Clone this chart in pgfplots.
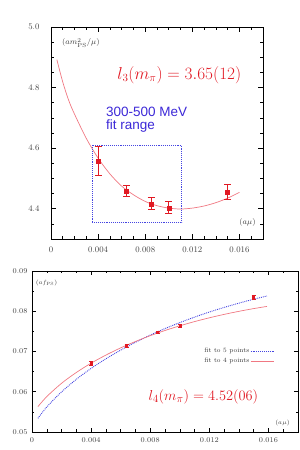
\documentclass[border=0pt]{standalone}
\usepackage{pgfplots}
\pgfplotsset{compat=1.18}
\usepackage{fontspec}
\newfontfamily\arialfont{Liberation Sans}
\definecolor{dred}{RGB}{225,25,35}
\definecolor{pred}{RGB}{240,120,130}
\definecolor{fblue}{RGB}{60,40,215}
\definecolor{cblue}{RGB}{70,70,225}
\begin{document}
\begin{tikzpicture}[x=1pt,y=1pt]
\useasboundingbox (0,0) rectangle (300,450);
% ---------------- top panel ----------------
\begin{axis}[
  at={(51pt,211pt)}, anchor=south west,
  scale only axis, width=212pt, height=212pt,
  xmin=0, xmax=0.018, ymin=4.3, ymax=5.0,
  xtick={0,0.004,0.008,0.012,0.016},
  xticklabels={0,0.004,0.008,0.012,0.016},
  minor xtick={0.001,0.002,0.003,0.005,0.006,0.007,0.009,0.010,0.011,0.013,0.014,0.015,0.017},
  ytick={4.4,4.6,4.8,5.0},
  yticklabels={4.4,4.6,4.8,5.0},
  minor ytick={4.35,4.45,4.5,4.55,4.65,4.7,4.75,4.85,4.9,4.95},
  scaled x ticks=false,
  tick align=inside,
  major tick length=5pt, minor tick length=3pt,
  axis line style={line width=0.8pt},
  tick style={line width=0.6pt, black},
  tick label style={font=\fontsize{8.5}{9}\selectfont, text=black!75},
  yticklabel style={xshift=-8pt},
  xticklabel style={yshift=-4pt},
  clip=false,
]
% fit curve
\addplot[pred, line width=0.7pt, smooth] coordinates {
(0.0005,4.892) (0.001,4.818) (0.0015,4.758) (0.002,4.712) (0.003,4.632)
(0.004,4.567) (0.005,4.515) (0.006,4.4745) (0.007,4.446) (0.008,4.424)
(0.009,4.410) (0.010,4.402) (0.011,4.399) (0.012,4.402) (0.013,4.409)
(0.014,4.420) (0.015,4.435) (0.016,4.454)};
% fit range box
\addplot[cblue, line width=0.9pt, densely dotted] coordinates {
(0.0035,4.355) (0.0111,4.355) (0.0111,4.61) (0.0035,4.61) (0.0035,4.355)};
% data
\addplot[dred, only marks, mark=square*, mark size=2pt,
  error bars/.cd, y dir=both, y explicit,
  error bar style={line width=0.9pt, dred},
  error mark options={rotate=90, mark size=3.5pt, line width=0.9pt, dred}]
coordinates {
(0.0040,4.558) +- (0,0.047)
(0.0064,4.459) +- (0,0.017)
(0.0085,4.416) +- (0,0.020)
(0.0100,4.403) +- (0,0.020)
(0.0150,4.455) +- (0,0.025)};
\node[text=dred, font=\fontsize{16}{18}\selectfont] at (axis cs:0.0109,4.8415) {$l_3(m_\pi) = 3.65(12)$};
\node[text=fblue, font=\arialfont\fontsize{13.5}{15}\selectfont, anchor=base west, inner sep=0pt] at (axis cs:0.00467,4.703) {300-500 MeV};
\node[text=fblue, font=\arialfont\fontsize{13.5}{15}\selectfont, anchor=base west, inner sep=0pt] at (axis cs:0.00467,4.660) {fit range};
\node[anchor=west, inner sep=0pt, text=black!75, font=\fontsize{8.5}{9}\selectfont] at (axis cs:0.00093,4.947) {$(am^{2}_{\mathrm{PS}}/\mu)$};
\node[fill=white, inner sep=1pt, text=black!75, font=\fontsize{8.5}{9}\selectfont] at (axis cs:0.01668,4.353) {$(a\mu)$};
\end{axis}
% ---------------- bottom panel ----------------
\begin{axis}[
  at={(32pt,18pt)}, anchor=south west,
  scale only axis, width=266pt, height=161pt,
  xmin=0, xmax=0.018, ymin=0.05, ymax=0.09,
  xtick={0,0.004,0.008,0.012,0.016},
  xticklabels={0,0.004,0.008,0.012,0.016},
  minor xtick={0.001,0.002,0.003,0.005,0.006,0.007,0.009,0.010,0.011,0.013,0.014,0.015,0.017},
  ytick={0.05,0.06,0.07,0.08,0.09},
  yticklabels={0.05,0.06,0.07,0.08,0.09},
  minor ytick={0.055,0.065,0.075,0.085},
  scaled x ticks=false, scaled y ticks=false,
  tick align=inside,
  major tick length=4pt, minor tick length=2.5pt,
  axis line style={line width=0.7pt},
  tick style={line width=0.5pt, black},
  tick label style={font=\fontsize{7.3}{8}\selectfont, text=black!75},
  yticklabel style={xshift=-1pt},
  xticklabel style={yshift=-2.5pt},
  legend style={draw=none, fill=none, at={(axis cs:0.0166,0.0688)}, anchor=east,
    font=\fontsize{6.5}{7}\selectfont, text=black!80, row sep=2pt,
    nodes={inner sep=1pt}},
  legend cell align=right,
  legend plot pos=right,
  legend image code/.code={\draw[#1] (0pt,0pt) -- (23pt,0pt);},
  clip=false,
]
\addplot[cblue, line width=0.9pt, densely dotted, smooth] coordinates {
(0.0004,0.05340) (0.001,0.05622) (0.002,0.05997) (0.003,0.06309) (0.004,0.06580)
(0.005,0.06819) (0.006,0.07034) (0.007,0.07229) (0.008,0.07407) (0.009,0.07570)
(0.010,0.07718) (0.011,0.07854) (0.012,0.07981) (0.013,0.08095) (0.014,0.08201)
(0.015,0.08299) (0.0159,0.08379)};
\addlegendentry{fit to 5 points}
\addplot[pred, line width=0.7pt, smooth] coordinates {
(0.0004,0.05630) (0.001,0.05880) (0.002,0.06210) (0.003,0.06479) (0.004,0.06710)
(0.005,0.06911) (0.006,0.07090) (0.007,0.07249) (0.008,0.07393) (0.009,0.07522)
(0.010,0.07638) (0.011,0.07743) (0.012,0.07837) (0.013,0.07922) (0.014,0.07998)
(0.015,0.08066) (0.0159,0.08120)};
\addlegendentry{fit to 4 points}
\addplot[dred, only marks, mark=square*, mark size=1pt, forget plot,
  error bars/.cd, y dir=both, y explicit,
  error bar style={line width=0.7pt, dred},
  error mark options={rotate=90, mark size=2pt, line width=0.7pt, dred}]
coordinates {
(0.0040,0.06710) +- (0,0.0005)
(0.0064,0.07137) +- (0,0.0003)
(0.0085,0.07477) +- (0,0.0003)
(0.0100,0.07641) +- (0,0.0004)
(0.0150,0.08347) +- (0,0.0005)};
\node[text=dred, font=\fontsize{15}{17}\selectfont] at (axis cs:0.0116,0.05877) {$l_4(m_\pi) = 4.52(06)$};
\node[anchor=center, inner sep=0pt, text=black!75, font=\fontsize{6.5}{7}\selectfont] at (axis cs:0.00098,0.08702) {$(af_{\mathrm{PS}})$};
\node[anchor=center, inner sep=0pt, text=black!75, font=\fontsize{6.5}{7}\selectfont] at (axis cs:0.01695,0.05231) {$(a\mu)$};
\end{axis}
\end{tikzpicture}
\end{document}
